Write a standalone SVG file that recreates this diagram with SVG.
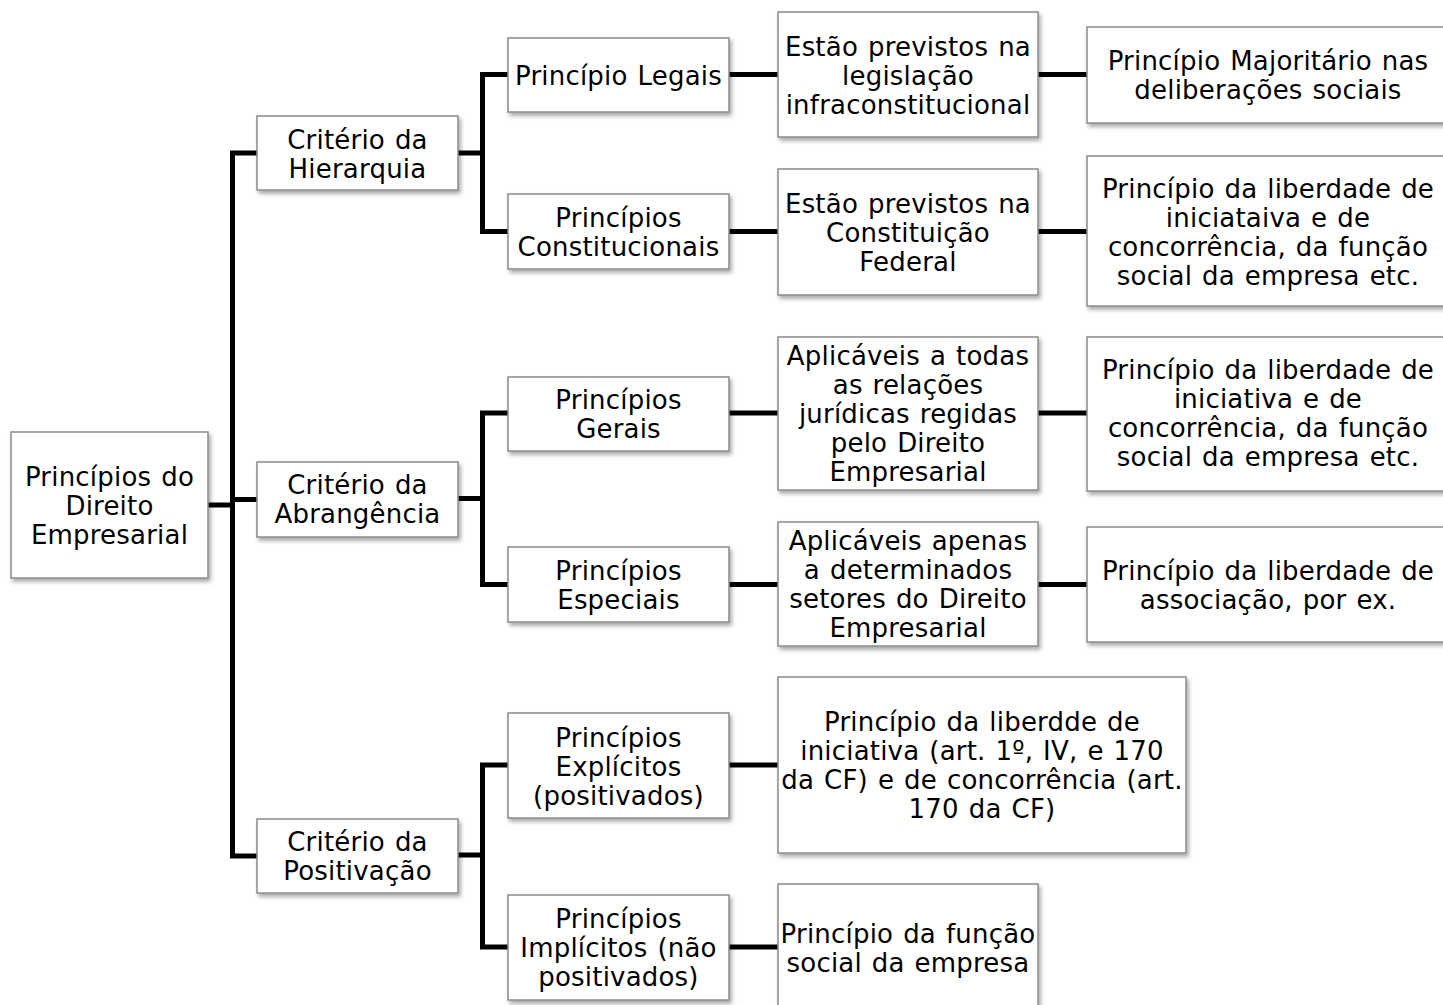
<svg xmlns="http://www.w3.org/2000/svg" width="1443" height="1005" viewBox="0 0 1443 1005">
<defs>
<filter id="sh" x="-10%" y="-10%" width="130%" height="130%">
<feDropShadow dx="2" dy="3" stdDeviation="2" flood-color="#000" flood-opacity="0.35"/>
</filter>
<style>
.box{fill:#fff;stroke:#8a8a8a;stroke-width:1.5;filter:url(#sh)}
.t{font-family:"DejaVu Sans","Verdana",sans-serif;font-size:26px;fill:#000;text-anchor:middle;letter-spacing:0.2px;word-spacing:1.5px}
.c{fill:none;stroke:#000;stroke-width:5;stroke-linejoin:miter;stroke-linecap:butt}
</style>
</defs>
<rect width="1443" height="1005" fill="#fff"/>
<g id="connectors" class="c">
<path d="M208,505 H232.5"/>
<path d="M257,153 H232.5 V856 H257"/>
<path d="M232.5,499.5 H257"/>
<path d="M458,153 H482.5"/>
<path d="M508,74.5 H482.5 V231.5 H508"/>
<path d="M458,498.5 H482.5"/>
<path d="M508,413 H482.5 V584.5 H508"/>
<path d="M458,855 H482.5"/>
<path d="M508,765 H482.5 V947 H508"/>
<path d="M729,74.5 H778"/>
<path d="M729,231.5 H778"/>
<path d="M729,413 H778"/>
<path d="M729,584.5 H778"/>
<path d="M729,765 H778"/>
<path d="M729,947 H778"/>
<path d="M1038,74.5 H1087"/>
<path d="M1038,231.5 H1087"/>
<path d="M1038,413 H1087"/>
<path d="M1038,584.5 H1087"/>
</g>
<g id="n-root"><rect class="box" x="11" y="432" width="197" height="146"/>
<text class="t" x="109.5" y="485.5">Princípios do</text><text class="t" x="109.5" y="514.5">Direito</text><text class="t" x="109.5" y="543.5">Empresarial</text></g>
<g id="n-hierarquia"><rect class="box" x="257" y="116" width="201" height="74"/>
<text class="t" x="357.5" y="148.5">Critério da</text><text class="t" x="357.5" y="177.5">Hierarquia</text></g>
<g id="n-abrangencia"><rect class="box" x="257" y="462" width="201" height="75"/>
<text class="t" x="357.5" y="494">Critério da</text><text class="t" x="357.5" y="523">Abrangência</text></g>
<g id="n-positivacao"><rect class="box" x="257" y="819" width="201" height="74"/>
<text class="t" x="357.5" y="850.5">Critério da</text><text class="t" x="357.5" y="879.5">Positivação</text></g>
<g id="n-legais"><rect class="box" x="508" y="38" width="221" height="74"/>
<text class="t" x="618.5" y="84.5">Princípio Legais</text></g>
<g id="n-constitucionais"><rect class="box" x="508" y="194" width="221" height="75"/>
<text class="t" x="618.5" y="226.5">Princípios</text><text class="t" x="618.5" y="255.5">Constitucionais</text></g>
<g id="n-gerais"><rect class="box" x="508" y="377" width="221" height="74"/>
<text class="t" x="618.5" y="408.5">Princípios</text><text class="t" x="618.5" y="437.5">Gerais</text></g>
<g id="n-especiais"><rect class="box" x="508" y="547" width="221" height="75"/>
<text class="t" x="618.5" y="579.5">Princípios</text><text class="t" x="618.5" y="608.5">Especiais</text></g>
<g id="n-explicitos"><rect class="box" x="508" y="713" width="221" height="105"/>
<text class="t" x="618.5" y="746.5">Princípios</text><text class="t" x="618.5" y="775.5">Explícitos</text><text class="t" x="618.5" y="804.5">(positivados)</text></g>
<g id="n-implicitos"><rect class="box" x="508" y="895" width="221" height="105"/>
<text class="t" x="618.5" y="927.5">Princípios</text><text class="t" x="618.5" y="956.5">Implícitos (não</text><text class="t" x="618.5" y="985.5">positivados)</text></g>
<g id="n-legislacao"><rect class="box" x="778" y="12" width="260" height="125"/>
<text class="t" x="908" y="55.5">Estão previstos na</text><text class="t" x="908" y="84.5">legislação</text><text class="t" x="908" y="113.5">infraconstitucional</text></g>
<g id="n-constituicao"><rect class="box" x="778" y="169" width="260" height="126"/>
<text class="t" x="908" y="212.5">Estão previstos na</text><text class="t" x="908" y="241.5">Constituição</text><text class="t" x="908" y="270.5">Federal</text></g>
<g id="n-todas"><rect class="box" x="778" y="337" width="260" height="153"/>
<text class="t" x="908" y="364.5">Aplicáveis a todas</text><text class="t" x="908" y="393.5">as relações</text><text class="t" x="908" y="422.5">jurídicas regidas</text><text class="t" x="908" y="451.5">pelo Direito</text><text class="t" x="908" y="480.5">Empresarial</text></g>
<g id="n-apenas"><rect class="box" x="778" y="522" width="260" height="124"/>
<text class="t" x="908" y="550">Aplicáveis apenas</text><text class="t" x="908" y="579">a determinados</text><text class="t" x="908" y="608">setores do Direito</text><text class="t" x="908" y="637">Empresarial</text></g>
<g id="n-liberdde"><rect class="box" x="778" y="677" width="408" height="176"/>
<text class="t" x="982" y="730.5">Princípio da liberdde de</text><text class="t" x="982" y="759.5">iniciativa (art. 1º, IV, e 170</text><text class="t" x="982" y="788.5">da CF) e de concorrência (art.</text><text class="t" x="982" y="817.5">170 da CF)</text></g>
<g id="n-funcao"><rect class="box" x="778" y="884" width="260" height="127"/>
<text class="t" x="908" y="942.5">Princípio da função</text><text class="t" x="908" y="971.5">social da empresa</text></g>
<g id="n-majoritario"><rect class="box" x="1087" y="27" width="362" height="96"/>
<text class="t" x="1268" y="69.5">Princípio Majoritário nas</text><text class="t" x="1268" y="98.5">deliberações sociais</text></g>
<g id="n-iniciataiva"><rect class="box" x="1087" y="156" width="362" height="150"/>
<text class="t" x="1268" y="197.5">Princípio da liberdade de</text><text class="t" x="1268" y="226.5">iniciataiva e de</text><text class="t" x="1268" y="255.5">concorrência, da função</text><text class="t" x="1268" y="284.5">social da empresa etc.</text></g>
<g id="n-iniciativa"><rect class="box" x="1087" y="337" width="362" height="154"/>
<text class="t" x="1268" y="378.5">Princípio da liberdade de</text><text class="t" x="1268" y="407.5">iniciativa e de</text><text class="t" x="1268" y="436.5">concorrência, da função</text><text class="t" x="1268" y="465.5">social da empresa etc.</text></g>
<g id="n-associacao"><rect class="box" x="1087" y="527" width="362" height="115"/>
<text class="t" x="1268" y="579.5">Princípio da liberdade de</text><text class="t" x="1268" y="608.5">associação, por ex.</text></g>
</svg>
